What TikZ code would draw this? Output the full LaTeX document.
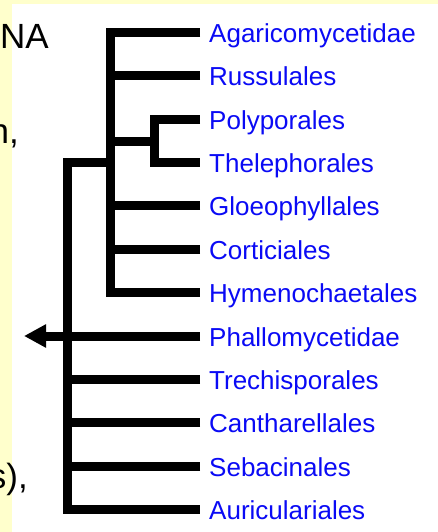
\documentclass[tikz,border=0pt]{standalone}
\usepackage{fontspec}
\setmainfont{Liberation Sans}
\usetikzlibrary{arrows.meta}
\definecolor{slideyellow}{HTML}{FFFFCC}
\definecolor{taxblue}{HTML}{0A0AF5}
\begin{document}
\begin{tikzpicture}[x=1pt,y=-1pt,
  branch/.style={line width=9pt, line join=miter, line cap=butt, draw=black},
  taxon/.style={anchor=west, inner xsep=9pt, inner ysep=0pt, text height=20pt, text depth=0pt, text=taxblue, font=\fontsize{26}{30}\selectfont},
  slidetext/.style={anchor=base east, inner sep=0pt, font=\fontsize{35}{42}\selectfont}]
\useasboundingbox (0,0) rectangle (438,532);
\fill[slideyellow] (0,0) rectangle (438,532);
\fill[white] (12,4) rectangle (438,532);

% partial slide text
\node[slidetext] (na) at (49,49) {NA};
\node[slidetext] (nc) at (19,143) {n,};
\node[slidetext] (sc) at (28,488) {s),};

% taxa
\node[taxon] (t1) at (200,32.5) {Agaricomycetidae};
\node[taxon] (t2) at (200,75.9) {Russulales};
\node[taxon] (t3) at (200,119.2) {Polyporales};
\node[taxon] (t4) at (200,162.6) {Thelephorales};
\node[taxon] (t5) at (200,205.9) {Gloeophyllales};
\node[taxon] (t6) at (200,249.3) {Corticiales};
\node[taxon] (t7) at (200,292.6) {Hymenochaetales};
\node[taxon] (t8) at (200,336) {Phallomycetidae};
\node[taxon] (t9) at (200,379.4) {Trechisporales};
\node[taxon] (t10) at (200,422.7) {Cantharellales};
\node[taxon] (t11) at (200,466.1) {Sebacinales};
\node[taxon] (t12) at (200,509.4) {Auriculariales};

% junctions
\coordinate (ia) at (110.5,32.5);
\coordinate (ib) at (110.5,292.6);
\coordinate (sa) at (154,119.2);
\coordinate (sb) at (154,162.6);
\coordinate (sm) at (154,141);
\coordinate (oa) at (67.5,162.6);
\coordinate (ob) at (67.5,509.4);
\coordinate (root) at (24,336);

% inner clade
\draw[branch] (t1.west) -- (ia) -- (ib) -- (t7.west);
\draw[branch] (t2.west) -- (t2.west -| ia);
\draw[branch] (t5.west) -- (t5.west -| ia);
\draw[branch] (t6.west) -- (t6.west -| ia);
% Polyporales + Thelephorales
\draw[branch] (t3.west) -- (sa) -- (sb) -- (t4.west);
\draw[branch] (sm) -- (sm -| ia);
% outer clade
\draw[branch] (oa -| ia) -- (oa) -- (ob) -- (t12.west);
\draw[branch] (t8.west) -- (t8.west -| oa);
\draw[branch] (t9.west) -- (t9.west -| oa);
\draw[branch] (t10.west) -- (t10.west -| oa);
\draw[branch] (t11.west) -- (t11.west -| oa);
% root
\draw[branch, -{Triangle[length=22pt,width=22pt]}] (t8.west -| oa) -- (root);
\end{tikzpicture}
\end{document}
